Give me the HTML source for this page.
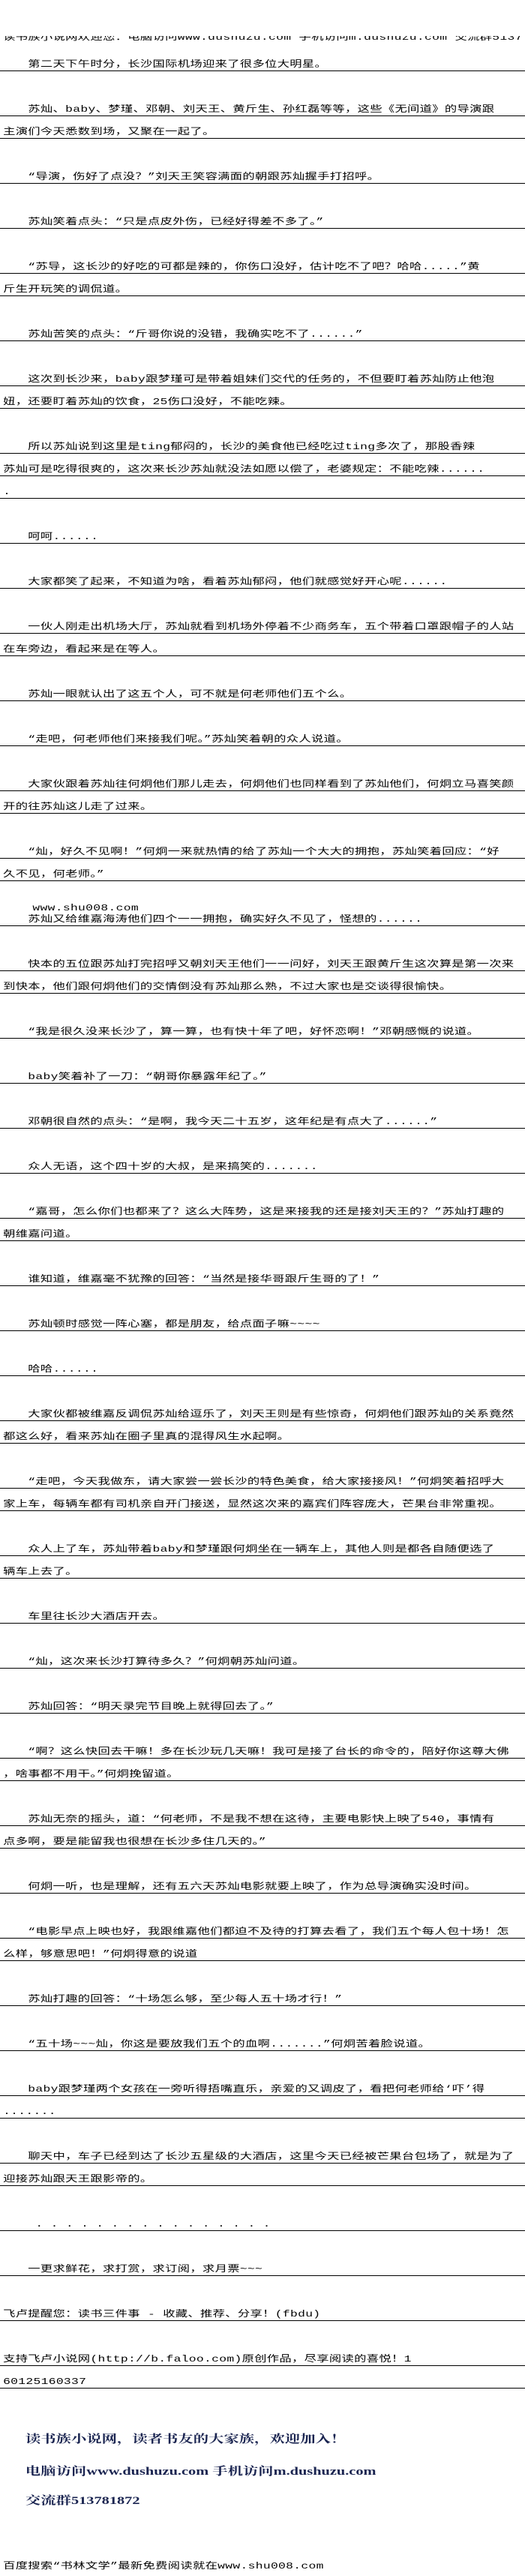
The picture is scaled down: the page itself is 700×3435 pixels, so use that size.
<!DOCTYPE html>
<html><head><meta charset="utf-8"><style>
html,body{margin:0;padding:0;background:#fff;}
body{width:700px;height:3435px;overflow:hidden;position:relative;}
#w{position:absolute;left:0;top:0;width:516px;height:3435px;transform:scaleX(1.3566);transform-origin:0 0;overflow:hidden;}
.l{position:absolute;left:0;width:513px;height:15px;border-bottom:1px solid #000;padding-left:3px;box-sizing:content-box;white-space:pre;font-family:"Liberation Mono","Noto Sans CJK SC",monospace;font-size:12px;line-height:15px;letter-spacing:0.25px;color:#000;overflow:hidden;}
.t{position:absolute;left:3px;max-width:510px;overflow:hidden;white-space:pre;font-family:"Liberation Mono","Noto Sans CJK SC",monospace;font-size:12px;line-height:15px;letter-spacing:0.25px;color:#000;}
.b{position:absolute;left:25px;white-space:pre;font-family:"Liberation Serif","Noto Serif CJK SC",serif;font-weight:bold;font-size:15px;line-height:18px;color:#1a2450;}
</style></head><body><div id="w">
<div class="t" style="top:48px;height:9px;"><span style="position:relative;top:-5px">读书族小说网欢迎您：电脑访问www.dushuzu.com 手机访问m.dushuzu.com 交流群513781872</span></div>
<div class="l" style="top:79px">　　第二天下午时分，长沙国际机场迎来了很多位大明星。</div>
<div class="l" style="top:139px">　　苏灿、baby、梦瑾、邓朝、刘天王、黄斤生、孙红磊等等，这些《无间道》的导演跟</div>
<div class="l" style="top:169px">主演们今天悉数到场，又聚在一起了。</div>
<div class="l" style="top:229px">　　“导演，伤好了点没？”刘天王笑容满面的朝跟苏灿握手打招呼。</div>
<div class="l" style="top:289px">　　苏灿笑着点头：“只是点皮外伤，已经好得差不多了。”</div>
<div class="l" style="top:349px">　　“苏导，这长沙的好吃的可都是辣的，你伤口没好，估计吃不了吧？哈哈.....”黄</div>
<div class="l" style="top:379px">斤生开玩笑的调侃道。</div>
<div class="l" style="top:439px">　　苏灿苦笑的点头：“斤哥你说的没错，我确实吃不了......”</div>
<div class="l" style="top:499px">　　这次到长沙来，baby跟梦瑾可是带着姐妹们交代的任务的，不但要盯着苏灿防止他泡</div>
<div class="l" style="top:529px">妞，还要盯着苏灿的饮食，25伤口没好，不能吃辣。</div>
<div class="l" style="top:589px">　　所以苏灿说到这里是ting郁闷的，长沙的美食他已经吃过ting多次了，那股香辣</div>
<div class="l" style="top:619px">苏灿可是吃得很爽的，这次来长沙苏灿就没法如愿以偿了，老婆规定：不能吃辣......</div>
<div class="l" style="top:649px">.</div>
<div class="l" style="top:709px">　　呵呵......</div>
<div class="l" style="top:769px">　　大家都笑了起来，不知道为啥，看着苏灿郁闷，他们就感觉好开心呢......</div>
<div class="l" style="top:829px">　　一伙人刚走出机场大厅，苏灿就看到机场外停着不少商务车，五个带着口罩跟帽子的人站</div>
<div class="l" style="top:859px">在车旁边，看起来是在等人。</div>
<div class="l" style="top:919px">　　苏灿一眼就认出了这五个人，可不就是何老师他们五个么。</div>
<div class="l" style="top:979px">　　“走吧，何老师他们来接我们呢。”苏灿笑着朝的众人说道。</div>
<div class="l" style="top:1039px">　　大家伙跟着苏灿往何炯他们那儿走去，何炯他们也同样看到了苏灿他们，何炯立马喜笑颜</div>
<div class="l" style="top:1069px">开的往苏灿这儿走了过来。</div>
<div class="l" style="top:1129px">　　“灿，好久不见啊！”何炯一来就热情的给了苏灿一个大大的拥抱，苏灿笑着回应：“好</div>
<div class="l" style="top:1159px">久不见，何老师。”</div>
<div class="t" style="top:1204px;left:32px">www.shu008.com</div>
<div class="l" style="top:1219px">　　苏灿又给维嘉海涛他们四个一一拥抱，确实好久不见了，怪想的......</div>
<div class="l" style="top:1279px">　　快本的五位跟苏灿打完招呼又朝刘天王他们一一问好，刘天王跟黄斤生这次算是第一次来</div>
<div class="l" style="top:1309px">到快本，他们跟何炯他们的交情倒没有苏灿那么熟，不过大家也是交谈得很愉快。</div>
<div class="l" style="top:1369px">　　“我是很久没来长沙了，算一算，也有快十年了吧，好怀恋啊！”邓朝感慨的说道。</div>
<div class="l" style="top:1429px">　　baby笑着补了一刀：“朝哥你暴露年纪了。”</div>
<div class="l" style="top:1489px">　　邓朝很自然的点头：“是啊，我今天二十五岁，这年纪是有点大了......”</div>
<div class="l" style="top:1549px">　　众人无语，这个四十岁的大叔，是来搞笑的.......</div>
<div class="l" style="top:1609px">　　“嘉哥，怎么你们也都来了？这么大阵势，这是来接我的还是接刘天王的？”苏灿打趣的</div>
<div class="l" style="top:1639px">朝维嘉问道。</div>
<div class="l" style="top:1699px">　　谁知道，维嘉毫不犹豫的回答：“当然是接华哥跟斤生哥的了！”</div>
<div class="l" style="top:1759px">　　苏灿顿时感觉一阵心塞，都是朋友，给点面子嘛~~~~</div>
<div class="l" style="top:1819px">　　哈哈......</div>
<div class="l" style="top:1879px">　　大家伙都被维嘉反调侃苏灿给逗乐了，刘天王则是有些惊奇，何炯他们跟苏灿的关系竟然</div>
<div class="l" style="top:1909px">都这么好，看来苏灿在圈子里真的混得风生水起啊。</div>
<div class="l" style="top:1969px">　　“走吧，今天我做东，请大家尝一尝长沙的特色美食，给大家接接风！”何炯笑着招呼大</div>
<div class="l" style="top:1999px">家上车，每辆车都有司机亲自开门接送，显然这次来的嘉宾们阵容庞大，芒果台非常重视。</div>
<div class="l" style="top:2059px">　　众人上了车，苏灿带着baby和梦瑾跟何炯坐在一辆车上，其他人则是都各自随便选了</div>
<div class="l" style="top:2089px">辆车上去了。</div>
<div class="l" style="top:2149px">　　车里往长沙大酒店开去。</div>
<div class="l" style="top:2209px">　　“灿，这次来长沙打算待多久？”何炯朝苏灿问道。</div>
<div class="l" style="top:2269px">　　苏灿回答：“明天录完节目晚上就得回去了。”</div>
<div class="l" style="top:2329px">　　“啊？这么快回去干嘛！多在长沙玩几天嘛！我可是接了台长的命令的，陪好你这尊大佛</div>
<div class="l" style="top:2359px">，啥事都不用干。”何炯挽留道。</div>
<div class="l" style="top:2419px">　　苏灿无奈的摇头，道：“何老师，不是我不想在这待，主要电影快上映了540，事情有</div>
<div class="l" style="top:2449px">点多啊，要是能留我也很想在长沙多住几天的。”</div>
<div class="l" style="top:2509px">　　何炯一听，也是理解，还有五六天苏灿电影就要上映了，作为总导演确实没时间。</div>
<div class="l" style="top:2569px">　　“电影早点上映也好，我跟维嘉他们都迫不及待的打算去看了，我们五个每人包十场！怎</div>
<div class="l" style="top:2599px">么样，够意思吧！”何炯得意的说道</div>
<div class="l" style="top:2659px">　　苏灿打趣的回答：“十场怎么够，至少每人五十场才行！”</div>
<div class="l" style="top:2719px">　　“五十场~~~灿，你这是要放我们五个的血啊.......”何炯苦着脸说道。</div>
<div class="l" style="top:2779px">　　baby跟梦瑾两个女孩在一旁听得捂嘴直乐，亲爱的又调皮了，看把何老师给‘吓’得</div>
<div class="l" style="top:2809px">.......</div>
<div class="l" style="top:2869px">　　聊天中，车子已经到达了长沙五星级的大酒店，这里今天已经被芒果台包场了，就是为了</div>
<div class="l" style="top:2899px">迎接苏灿跟天王跟影帝的。</div>
<div class="l" style="top:2959px">　　 . . . . . . . . . . . . . . . .</div>
<div class="l" style="top:3019px">　　一更求鲜花，求打赏，求订阅，求月票~~~</div>
<div class="l" style="top:3079px">飞卢提醒您：读书三件事 - 收藏、推荐、分享！(fbdu)</div>
<div class="l" style="top:3139px">支持飞卢小说网(http://b.faloo.com)原创作品，尽享阅读的喜悦！1</div>
<div class="l" style="top:3169px">60125160337</div>
<div class="b" style="top:3244px">读书族小说网，读者书友的大家族，欢迎加入！</div>
<div class="b" style="top:3287px">电脑访问www.dushuzu.com 手机访问m.dushuzu.com</div>
<div class="b" style="top:3326px">交流群513781872</div>
<div class="t" style="top:3415px">百度搜索“书林文学”最新免费阅读就在www.shu008.com</div>
</div></body></html>
